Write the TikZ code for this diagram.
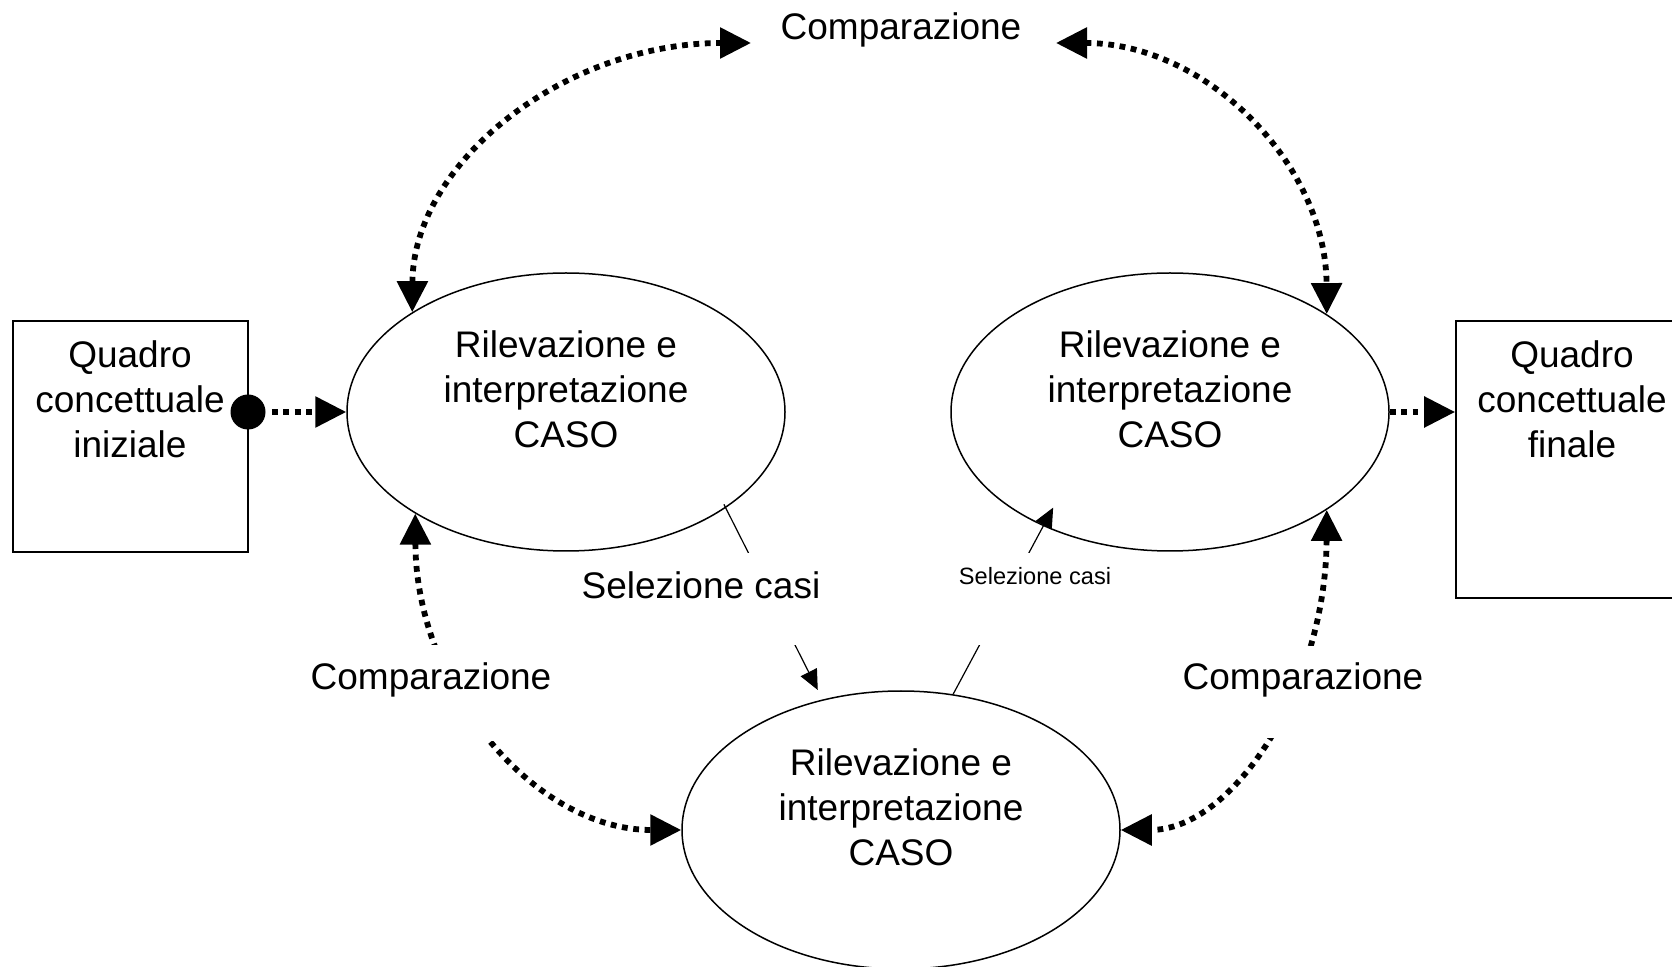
\documentclass[tikz,border=0pt]{standalone}
\usepackage{fontspec}
\setmainfont{Liberation Sans}
\usetikzlibrary{shapes.geometric,arrows.meta}
\tikzset{
  bigtip/.tip={Triangle[length=15.5pt,width=15pt]},
  smalltip/.tip={Triangle[length=10pt,width=9pt]},
}
\begin{document}
\begin{tikzpicture}[x=0.5pt,y=-0.5pt,
  txt/.style={font=\fontsize{18.5}{22.4}\selectfont, align=center, inner sep=0},
  smalltxt/.style={font=\fontsize{11.8}{14}\selectfont, inner sep=0},
  oval/.style={draw, ellipse, line width=0.75pt, minimum width=219pt, minimum height=139pt, inner sep=0},
  frame/.style={draw, rectangle, line width=0.9pt, inner sep=0},
  dots/.style={line width=2.9pt, dash pattern=on 2.9pt off 2.8pt},
  thinarrow/.style={line width=0.6pt, -smalltip},
  gap/.style={fill=white, inner sep=0},
]
\useasboundingbox (0,0) rectangle (1672,967);

% ellipses
\node[oval] (L) at (566,412) {};
\node[oval] (R) at (1170,412) {};
\node[oval] (B) at (901,830) {};
\node[txt] (Lt) at (566,389) {Rilevazione e\\interpretazione\\CASO};
\node[txt] (Rt) at (1170,389) {Rilevazione e\\interpretazione\\CASO};
\node[txt] (Bt) at (901,807) {Rilevazione e\\interpretazione\\CASO};

% boxes
\node[frame, minimum width=117.5pt, minimum height=115.5pt] (Q1) at (130.5,436.5) {};
\node[txt] (Q1t) at (130,399) {Quadro\\concettuale\\iniziale};
\node[frame, minimum width=116pt, minimum height=138.5pt] (Q2) at (1572,459.5) {};
\node[txt] (Q2t) at (1572,399) {Quadro\\concettuale\\finale};
\node[circle, fill=black, minimum size=17.5pt, inner sep=0] (dot) at (248,412) {};

% free ends near the top label
\coordinate (cTL) at (751,43);
\coordinate (cTR) at (1056,43);

% horizontal dotted arrows
\draw[dots, -bigtip, shorten <=3pt] (dot) -- (L.west);
\draw[dots, -bigtip] (R.east) -- (R.east -| Q2.west);

% comparison arcs
\draw[dots, bigtip-bigtip] (L.147) .. controls (413,163) and (564,43) .. (cTL);
\draw[dots, bigtip-bigtip] (cTR) .. controls (1206,43) and (1326,164) .. (R.32);
\draw[dots, bigtip-bigtip] (L.214) .. controls (416,688) and (534,830) .. (B.west);
\draw[dots, bigtip-bigtip] (R.-32) .. controls (1326,686) and (1234,830) .. (B.east);

% selection connectors
\draw[thinarrow, shorten <=-2pt, shorten >=5.3pt] (L.-31) -- (B.121);
\draw[thinarrow, shorten >=-10.5pt] (B.69) -- (R.222);

% labels with gaps
\node[gap, minimum width=130pt, minimum height=48pt] (gBL) at (430,693) {};
\node[txt] (cBL) at (431,680) {Comparazione};
\node[gap, minimum width=130pt, minimum height=46pt] (gBR) at (1303,692) {};
\node[txt] (cBR) at (1303,680) {Comparazione};
\node[txt] (cT) at (901,30) {Comparazione};
\node[gap, minimum width=122pt, minimum height=46pt] (gS1) at (702,599) {};
\node[txt] (s1) at (701,585) {Selezione casi};
\node[gap, minimum width=85pt, minimum height=46pt] (gS2) at (1035,599) {};
\node[smalltxt] (s2) at (1035,576) {Selezione casi};
\end{tikzpicture}
\end{document}
